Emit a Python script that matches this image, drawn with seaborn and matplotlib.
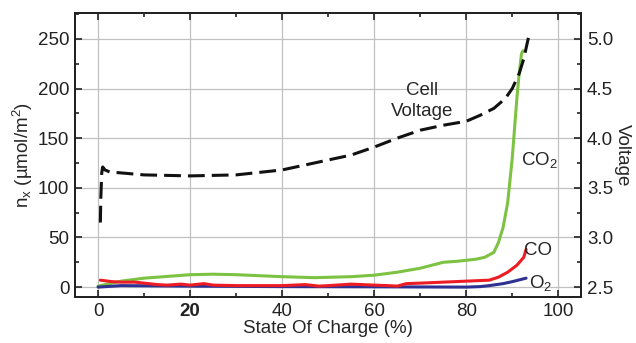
import numpy as np
import pandas as pd
import matplotlib
matplotlib.use("Agg")
import matplotlib.pyplot as plt
import seaborn as sns
from matplotlib.ticker import MultipleLocator

# data
volt_soc = [0.5, 0.6, 0.8, 1.0, 1.5, 2.5, 5, 10, 20, 30, 40, 48, 55, 60, 65, 70, 75, 80, 83, 86, 88.5, 90, 91.5, 92.5, 93.5]
volt_v = [3.15, 3.4, 3.65, 3.71, 3.68, 3.66, 3.65, 3.63, 3.62, 3.63, 3.68, 3.76, 3.83, 3.91, 4.0, 4.08, 4.13, 4.17, 4.23, 4.30, 4.40, 4.50, 4.65, 4.80, 5.01]

co2_soc = [0, 5, 10, 20, 25, 30, 40, 47, 55, 60, 65, 70, 75, 78, 82, 84, 86, 87, 88, 89, 90, 90.5, 91, 91.5, 92, 92.3]
co2_n = [1, 6, 9, 12.5, 13, 12.5, 10.5, 9.5, 10.5, 12, 15, 19, 25, 26, 28, 30, 35, 45, 60, 85, 130, 160, 190, 215, 235, 238]

co_soc = [0.5, 3, 5, 8, 10, 13, 15, 18, 20, 23, 25, 30, 35, 40, 45, 48, 50, 55, 60, 63, 65, 67, 70, 75, 80, 85, 87, 89, 91, 92.5, 93]
co_n = [7, 5.5, 5, 5, 4, 2.5, 2, 3, 2, 3.5, 2, 1.5, 1.5, 1.5, 2.5, 1, 1.5, 3, 2, 1.5, 1, 3.5, 4, 5, 6, 7, 10, 15, 22, 30, 38]

o2_soc = [0, 5, 20, 40, 60, 80, 83, 85, 88, 90, 93]
o2_n = [0, 1.5, 1, 0.5, 0.3, 0, 0.5, 1.5, 3.5, 5.5, 9]

FS = 13.5

sns.set_style("ticks")
plt.rcParams["font.family"] = ["Liberation Sans", "DejaVu Sans"]
plt.rcParams["font.size"] = FS
plt.rcParams["mathtext.fontset"] = "custom"
plt.rcParams["mathtext.rm"] = "Liberation Sans"
plt.rcParams["mathtext.it"] = "Liberation Sans"

fig, ax = plt.subplots(figsize=(6.36, 3.43), dpi=100)
fig.subplots_adjust(left=0.118, right=0.914, top=0.962, bottom=0.134)

ax.grid(True, color="#c0c0c0", linewidth=0.9, zorder=0)
ax.set_axisbelow(True)

sns.lineplot(x=co2_soc, y=co2_n, ax=ax, color="#7dc242", linewidth=2.2)
sns.lineplot(x=o2_soc, y=o2_n, ax=ax, color="#2e3192", linewidth=2.2)
sns.lineplot(x=co_soc, y=co_n, ax=ax, color="#ed1c24", linewidth=2.2)

ax.set_xlim(-5, 105)
ax.set_ylim(-10, 276)
ax.xaxis.set_major_locator(MultipleLocator(20))
ax.xaxis.set_minor_locator(MultipleLocator(10))
ax.yaxis.set_major_locator(MultipleLocator(50))
ax.yaxis.set_minor_locator(MultipleLocator(25))
ax.tick_params(which="both", direction="in", top=True, width=1.2, colors="#222222")
ax.tick_params(which="major", length=5, labelsize=FS, pad=4)
ax.tick_params(which="minor", length=3)
ax.set_xlabel("State Of Charge (%)", fontsize=FS, labelpad=0)
ax.set_ylabel("n$_x$ (µmol/m$^2$)", fontsize=FS, labelpad=2)
fig.canvas.draw()
for lab in ax.get_xticklabels():
    if lab.get_text() == "20":
        lab.set_fontweight("semibold")

ax2 = ax.twinx()
sns.lineplot(x=volt_soc, y=volt_v, ax=ax2, color="#111111", linewidth=2.2)
ax2.lines[0].set_dashes([5.5, 2.3])
ax2.set_ylim(2.4, 5.26)
ax2.yaxis.set_major_locator(MultipleLocator(0.5))
ax2.yaxis.set_minor_locator(MultipleLocator(0.25))
ax2.yaxis.set_major_formatter(matplotlib.ticker.FormatStrFormatter("%.1f"))
ax2.tick_params(which="both", direction="in", width=1.2, colors="#222222")
ax2.tick_params(which="major", length=5, labelsize=FS, pad=4)
ax2.tick_params(which="minor", length=3)
ax2.set_ylabel("Voltage", rotation=270, fontsize=FS, labelpad=13)

for a in (ax, ax2):
    for s in a.spines.values():
        s.set_linewidth(1.4)
        s.set_color("#222222")

ax.text(70.5, 187, "Cell\nVoltage", ha="center", va="center", fontsize=FS, linespacing=1.3)
ax.text(92.0, 128, "CO$_2$", ha="left", va="center", fontsize=FS)
ax.text(92.6, 37, "CO", ha="left", va="center", fontsize=FS)
ax.text(93.6, 4, "O$_2$", ha="left", va="center", fontsize=FS)

plt.savefig("out.png", dpi=100)
